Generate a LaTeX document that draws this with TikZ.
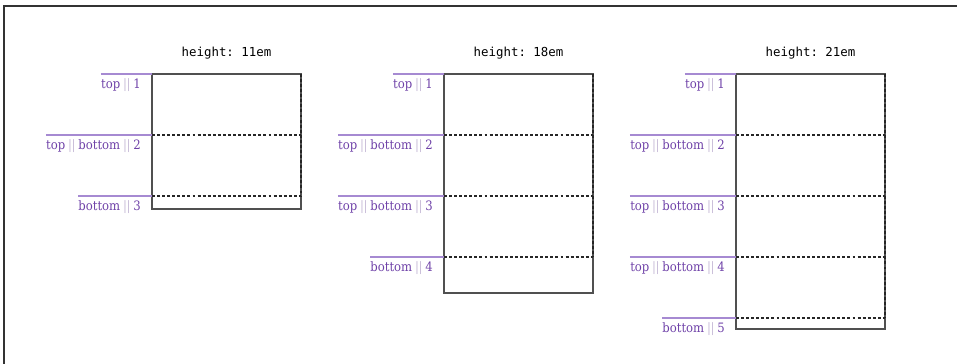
\documentclass[tikz,border=0pt]{standalone}
\usepackage{fontspec}
\setmainfont{DejaVu Serif Condensed}
\setmonofont{DejaVu Sans Mono}
\definecolor{lblc}{HTML}{6F42A8}
\definecolor{rulec}{HTML}{A68AD2}
\definecolor{sepc}{HTML}{C6BAD6}
\definecolor{boxc}{HTML}{505050}
\newcommand\lsep{\textcolor{sepc}{\hspace{0.22em}|\kern-0.35pt|\hspace{0.22em}}}
\tikzset{
  lbl/.style={anchor=base east, inner sep=0pt, text=lblc, font=\fontsize{9.7pt}{11pt}\selectfont},
  lrule/.style={draw=rulec, line width=0.8pt},
  head/.style={anchor=base, inner sep=0pt, font=\ttfamily\fontsize{9.3pt}{11pt}\selectfont},
  outerbox/.style={draw=boxc, line width=0.9pt},
  linebox/.style={draw=black!85, line width=0.85pt, dash pattern=on 2.2pt off 1.6pt},
  frame/.style={draw=black!80, line width=1.2pt}
}
\begin{document}
\begin{tikzpicture}[x=0.75pt,y=-0.75pt]
\useasboundingbox (0,0) rectangle (957,364);
\coordinate (fbl) at (4,364);
\coordinate (ftl) at (4,6);
\coordinate (ftr) at (957,6);
\draw[frame] (fbl) -- (ftl) -- (ftr);

% ---------- box 1 ----------
\node[head] (h1) at (226.5,56) {height: 11em};
\coordinate (a1) at (152,74);
\coordinate (a2) at (152,135);
\coordinate (a3) at (152,196);
\coordinate (ae) at (301,209);
\draw[outerbox] (a1) rectangle (ae);
\draw[linebox] (a2) -- (a2 -| ae) (a3) -- (a3 -| ae) (a1 -| ae) -- (a3 -| ae);
\node[lbl] (la1) at (141,88.5) {top\lsep 1};
\node[lbl] (la2) at (141,149.5) {top\lsep bottom\lsep 2};
\node[lbl] (la3) at (141,210.5) {bottom\lsep 3};
\draw[lrule] (la1.west |- a1) -- (a1);
\draw[lrule] (la2.west |- a2) -- (a2);
\draw[lrule] (la3.west |- a3) -- (a3);

% ---------- box 2 ----------
\node[head] (h2) at (518.5,56) {height: 18em};
\coordinate (b1) at (444,74);
\coordinate (b2) at (444,135);
\coordinate (b3) at (444,196);
\coordinate (b4) at (444,257);
\coordinate (be) at (593,293);
\draw[outerbox] (b1) rectangle (be);
\draw[linebox] (b2) -- (b2 -| be) (b3) -- (b3 -| be) (b4) -- (b4 -| be) (b1 -| be) -- (b4 -| be);
\node[lbl] (lb1) at (433,88.5) {top\lsep 1};
\node[lbl] (lb2) at (433,149.5) {top\lsep bottom\lsep 2};
\node[lbl] (lb3) at (433,210.5) {top\lsep bottom\lsep 3};
\node[lbl] (lb4) at (433,271.5) {bottom\lsep 4};
\draw[lrule] (lb1.west |- b1) -- (b1);
\draw[lrule] (lb2.west |- b2) -- (b2);
\draw[lrule] (lb3.west |- b3) -- (b3);
\draw[lrule] (lb4.west |- b4) -- (b4);

% ---------- box 3 ----------
\node[head] (h3) at (810.5,56) {height: 21em};
\coordinate (c1) at (736,74);
\coordinate (c2) at (736,135);
\coordinate (c3) at (736,196);
\coordinate (c4) at (736,257);
\coordinate (c5) at (736,318);
\coordinate (ce) at (885,329);
\draw[outerbox] (c1) rectangle (ce);
\draw[linebox] (c2) -- (c2 -| ce) (c3) -- (c3 -| ce) (c4) -- (c4 -| ce) (c5) -- (c5 -| ce) (c1 -| ce) -- (c5 -| ce);
\node[lbl] (lc1) at (725,88.5) {top\lsep 1};
\node[lbl] (lc2) at (725,149.5) {top\lsep bottom\lsep 2};
\node[lbl] (lc3) at (725,210.5) {top\lsep bottom\lsep 3};
\node[lbl] (lc4) at (725,271.5) {top\lsep bottom\lsep 4};
\node[lbl] (lc5) at (725,332.5) {bottom\lsep 5};
\draw[lrule] (lc1.west |- c1) -- (c1);
\draw[lrule] (lc2.west |- c2) -- (c2);
\draw[lrule] (lc3.west |- c3) -- (c3);
\draw[lrule] (lc4.west |- c4) -- (c4);
\draw[lrule] (lc5.west |- c5) -- (c5);
\end{tikzpicture}
\end{document}
